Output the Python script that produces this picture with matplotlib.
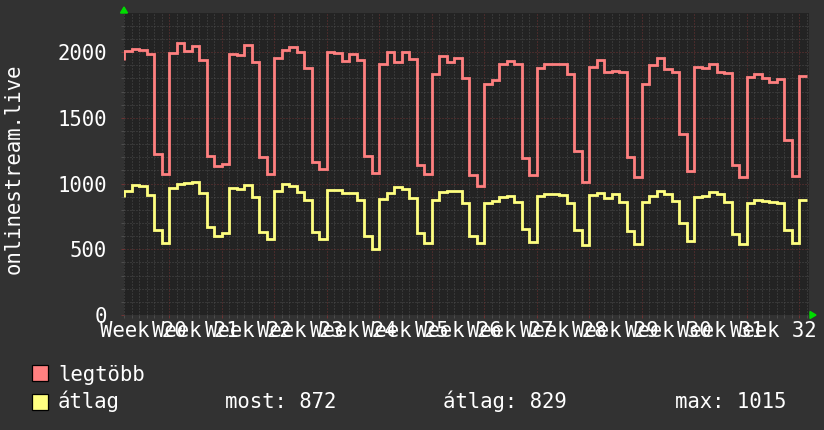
import matplotlib
matplotlib.use("Agg")
import matplotlib.pyplot as plt
import numpy as np
from matplotlib.patches import Rectangle, Polygon

# ---------------- data (daily values) ----------------
legtobb = [1940,
           2011, 2024, 2016, 1983, 1227, 1073, 1996, 2072, 2011, 2049,
           1940, 1210, 1134, 1149, 1986, 1978, 2057, 1922, 1205, 1073,
           1953, 2020, 2042, 1998, 1882, 1161, 1111, 1998, 1991, 1935,
           1986, 1940, 1210, 1083, 1910, 1998, 1927, 1998, 1948, 1141,
           1073, 1831, 1973, 1927, 1955, 1806, 1065, 984, 1755, 1788,
           1907, 1935, 1907, 1192, 1065, 1882, 1910, 1910, 1910, 1831,
           1250, 1014, 1889, 1940, 1846, 1859, 1846, 1205, 1052, 1755,
           1902, 1958, 1872, 1851, 1377, 1096, 1889, 1882, 1910, 1851,
           1839, 1141, 1052, 1808, 1834, 1806, 1770, 1796, 1331, 1058,
           1821]
atlag = [900,
         943, 989, 981, 915, 647, 545, 969, 997, 1007, 1015,
         931, 672, 601, 621, 969, 959, 989, 900, 634, 578,
         943, 997, 981, 938, 875, 634, 578, 951, 951, 931,
         931, 875, 601, 502, 882, 931, 976, 956, 888, 621,
         545, 875, 938, 943, 943, 850, 604, 545, 850, 870,
         900, 908, 862, 652, 558, 908, 921, 921, 913, 850,
         647, 532, 913, 926, 893, 921, 862, 639, 537, 862,
         908, 943, 918, 870, 697, 566, 900, 908, 933, 918,
         857, 614, 537, 850, 875, 867, 862, 855, 647, 545,
         872]
week_numbers = list(range(20, 33))
week_labels = [f"Week {n}" for n in week_numbers]
y_ticks = [0, 500, 1000, 1500, 2000]
series_names = ["legtöbb", "átlag"]
stat_names = ["most", "átlag", "max"]
stat_values = [872, 829, 1015]
y_label = "onlinestream.live"

# ---------------- styling / layout ----------------
W, H = 824, 430
BG = "#323232"
CANVAS = "#232323"
RED = "#ff8080"
YEL = "#ffff80"
MINOR = "#4c4c4c"
MAJOR = "#6e3434"
FS = 14.9

plt.rcParams["font.family"] = ["DejaVu Sans Mono", "DejaVu Sans"]

def fx(px):
    return px / W

def fy(py):
    return 1 - py / H

fig = plt.figure(figsize=(W / 100, H / 100), dpi=100, facecolor=BG)
left, right, top, bottom = 124, 809.5, 13, 315
ax = fig.add_axes([fx(left), fy(bottom), (right - left) / W, (bottom - top) / H])
ax.set_facecolor(CANVAS)

px_per_day = 7.5
xmax = (right - left) / px_per_day
ymax = 2298
ax.set_xlim(0, xmax)
ax.set_ylim(0, ymax)

x0 = 0.5 / px_per_day
n = len(legtobb) - 1
edges = np.concatenate([[0.0], x0 + np.arange(n + 1)])

# grid
days = x0 + np.arange(0, int(xmax) + 1)
days = days[days < xmax]
week_first = x0 + 6
weeks = week_first + 7 * np.arange(len(week_numbers))
minor_x = [d for d in days if not np.any(np.isclose(d, weeks))]
ax.vlines(minor_x, 0, ymax, colors=MINOR, linewidth=0.72, linestyles=(0, (1, 2)), zorder=1)
ax.vlines(weeks, 0, ymax, colors=MAJOR, linewidth=0.72, linestyles=(0, (1, 2)), zorder=1.5)
minor_y = [v for v in range(100, 2300, 100) if v % 500 != 0]
ax.hlines(minor_y, 0, xmax, colors=MINOR, linewidth=0.72, linestyles=(0, (1, 2)), zorder=1)
ax.hlines([v for v in y_ticks if v > 0], 0, xmax, colors=MAJOR, linewidth=0.72,
          linestyles=(0, (1, 2)), zorder=1.5)

# small tick marks outside the axes
ty = 2.5 / ((bottom - top) / ymax)
tx = 2.5 / px_per_day
ax.vlines(minor_x, -ty, 0, colors=MINOR, linewidth=0.72, clip_on=False)
ax.vlines(weeks, -ty, 0, colors=MAJOR, linewidth=0.72, clip_on=False)
ax.hlines(minor_y, -tx, 0, colors=MINOR, linewidth=0.72, clip_on=False)
ax.hlines(y_ticks, -tx, 0, colors=MAJOR, linewidth=0.72, clip_on=False)

# series
ax.stairs(legtobb, edges, baseline=None, color=RED, linewidth=2.0, zorder=3)
ax.stairs(atlag, edges, baseline=None, color=YEL, linewidth=2.0, zorder=3)

# ticks & labels
ax.set_yticks(y_ticks)
ax.set_yticklabels([str(v) for v in y_ticks])
ax.tick_params(axis="y", length=0, pad=12.2, labelsize=FS, labelcolor="white")
ax.set_xticks(weeks - 3.5)
ax.set_xticklabels(week_labels)
ax.tick_params(axis="x", length=0, pad=4.0, labelsize=FS, labelcolor="white")
for s in ax.spines.values():
    s.set_visible(False)

fig.text(fx(14), fy(169), y_label, rotation=90, ha="center", va="center",
         fontsize=FS, color="white")

# arrows
fig.patches.append(Polygon([(fx(120.5), fy(13)), (fx(127.5), fy(13)), (fx(124), fy(7))],
                           closed=True, color="#00dd00", transform=fig.transFigure, zorder=5))
fig.patches.append(Polygon([(fx(810), fy(311.5)), (fx(810), fy(318.5)), (fx(816), fy(315))],
                           closed=True, color="#00dd00", transform=fig.transFigure, zorder=5))

# legend
for i, (name, col) in enumerate(zip(series_names, [RED, YEL])):
    ytop = 365 + i * 29
    fig.patches.append(Rectangle((fx(32), fy(ytop + 16)), 16 / W, 16 / H, facecolor=col,
                                 edgecolor="black", linewidth=0.9, transform=fig.transFigure))
    fig.text(fx(58), fy(381 + i * 27.5), name, fontsize=FS, color="white", va="baseline")

stat_x = [225, 443, 675]
for sx, nm, v in zip(stat_x, stat_names, stat_values):
    fig.text(fx(sx), fy(408.5), f"{nm}: {v}", fontsize=FS, color="white", va="baseline")

fig.savefig("out.png", dpi=100, facecolor=BG)
